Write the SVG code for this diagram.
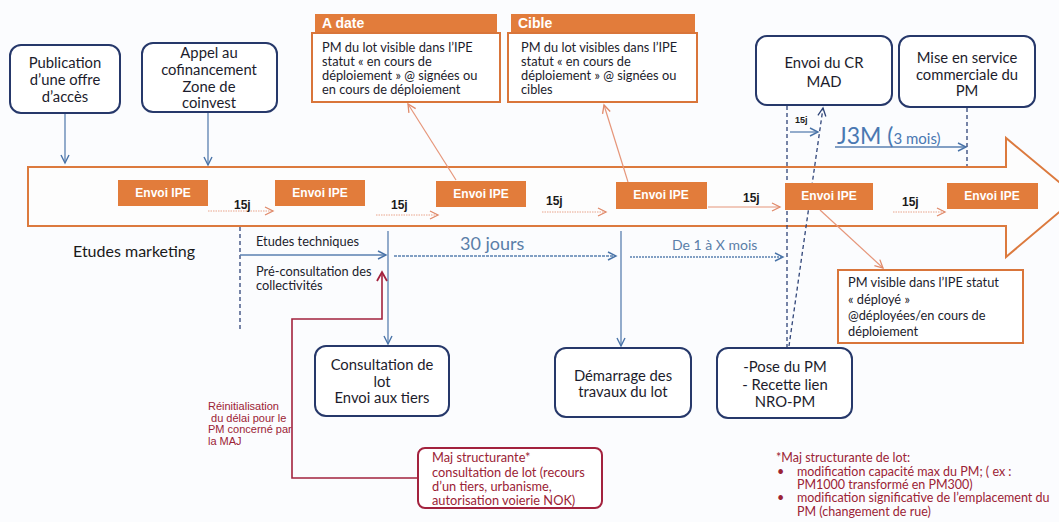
<svg xmlns="http://www.w3.org/2000/svg" width="1059" height="522" viewBox="0 0 1059 522">
<style>
.bg{fill:#fbfcfe}
.nb{fill:#ffffff;stroke:#26386a;stroke-width:2}
.nt{font-family:Lato,"Liberation Sans",sans-serif;font-size:14.8px;fill:#1c1c2c;text-anchor:middle}
.ob{fill:#e27c3b}
.ot{font-family:"Liberation Sans",Arial,sans-serif;font-size:12px;font-weight:bold;fill:#ffffff;text-anchor:middle}
.bx{fill:#ffffff;stroke:#d9753a;stroke-width:2}
.st{font-family:Lato,"Liberation Sans",sans-serif;font-size:12.8px;fill:#1c1c2c}
.j{font-family:"Liberation Sans",Arial,sans-serif;font-size:12px;font-weight:bold;fill:#1a1a1a}
.sal{stroke:#e6967a;stroke-width:1.2;fill:none}
.dot{stroke:#e9a58c;stroke-width:1;fill:none;stroke-dasharray:1.5 1}
.blu{stroke:#5a80b0;stroke-width:1.3;fill:none}
.nav{stroke:#2f4478;stroke-width:1.3;fill:none;stroke-dasharray:4 3}
.red{stroke:#a3223e;stroke-width:1.6;fill:none}
.rt{font-family:Lato,"Liberation Sans",sans-serif;fill:#9b2335}
</style>
<defs>
<marker id="aS" markerUnits="userSpaceOnUse" markerWidth="12" markerHeight="12" refX="9" refY="5" orient="auto"><path d="M1,1 L9,5 L1,9" fill="none" stroke="#e08a6a" stroke-width="1.3"/></marker>
<marker id="aB" markerUnits="userSpaceOnUse" markerWidth="12" markerHeight="12" refX="9" refY="5" orient="auto"><path d="M1,1 L9,5 L1,9" fill="none" stroke="#4a74a8" stroke-width="1.4"/></marker>
<marker id="aN" markerUnits="userSpaceOnUse" markerWidth="12" markerHeight="12" refX="9" refY="5" orient="auto"><path d="M1,1 L9,5 L1,9" fill="none" stroke="#2f4478" stroke-width="1.3"/></marker>
<marker id="aR" markerUnits="userSpaceOnUse" markerWidth="14" markerHeight="14" refX="10" refY="6" orient="auto"><path d="M1,1 L10,6 L1,11" fill="none" stroke="#a3223e" stroke-width="1.8"/></marker>
</defs>
<rect class="bg" x="0" y="0" width="1059" height="522"/>

<g id="timeline">
<polygon points="28,167 1006,167 1006,138 1077,197 1006,257 1006,226 28,226" fill="#fdfdfd" stroke="#dc7a3e" stroke-width="2"/>
</g>

<g id="connectors">
<line x1="65" y1="113" x2="65" y2="163" class="blu" marker-end="url(#aB)"/>
<line x1="208" y1="112" x2="208" y2="165" class="blu" marker-end="url(#aB)"/>
<line x1="208" y1="211" x2="273" y2="211" class="dot" marker-end="url(#aS)"/>
<line x1="376" y1="215" x2="438" y2="215" class="dot" marker-end="url(#aS)"/>
<line x1="542" y1="212" x2="606" y2="212" class="dot" marker-end="url(#aS)"/>
<line x1="708" y1="207" x2="780" y2="207" class="sal" marker-end="url(#aS)"/>
<line x1="893" y1="212" x2="945" y2="212" class="dot" marker-end="url(#aS)"/>
<line x1="456" y1="180" x2="408" y2="104" class="sal" marker-end="url(#aS)"/>
<line x1="628" y1="182" x2="604" y2="105" class="sal" marker-end="url(#aS)"/>
<line x1="820" y1="210" x2="883" y2="268" class="sal" marker-end="url(#aS)"/>
<line x1="240" y1="227" x2="240" y2="330" class="nav"/>
<line x1="240" y1="255" x2="386" y2="255" class="blu" marker-end="url(#aB)"/>
<line x1="388" y1="231" x2="388" y2="344" class="blu" marker-end="url(#aB)"/>
<line x1="394" y1="256" x2="616" y2="256" class="blu" stroke-dasharray="3 1" marker-end="url(#aB)"/>
<line x1="621" y1="231" x2="621" y2="346" class="blu" marker-end="url(#aB)"/>
<line x1="630" y1="257" x2="783" y2="257" class="blu" stroke-dasharray="2 1" marker-end="url(#aB)"/>
<line x1="787" y1="106" x2="787" y2="347" class="nav"/>
<line x1="789" y1="346" x2="823" y2="108" class="nav" marker-end="url(#aN)"/>
<line x1="790" y1="132" x2="818" y2="132" class="blu" marker-end="url(#aB)"/>
<line x1="835" y1="147" x2="966" y2="147" class="blu" marker-end="url(#aB)"/>
<line x1="967" y1="108" x2="967" y2="166" class="nav"/>
<polyline points="418,478 292,478 292,319 382,319 382,272" class="red" marker-end="url(#aR)"/>
</g>

<g id="n-publication">
<rect class="nb" x="10" y="45" width="110" height="68" rx="11"/>
<text class="nt" x="65" y="68">Publication</text>
<text class="nt" x="65" y="85">d’une offre</text>
<text class="nt" x="65" y="102">d’accès</text>
</g>
<g id="n-appel">
<rect class="nb" x="142" y="43" width="135" height="69" rx="11"/>
<text class="nt" x="209" y="58">Appel au</text>
<text class="nt" x="209" y="75">cofinancement</text>
<text class="nt" x="209" y="92">Zone de</text>
<text class="nt" x="209" y="108">coinvest</text>
</g>

<g id="n-adate">
<rect class="bx" x="312" y="33" width="188" height="69"/>
<rect class="ob" x="315" y="14" width="182" height="18"/>
<text x="322" y="28" font-family="Liberation Sans,Arial,sans-serif" font-size="14" font-weight="bold" fill="#fff">A date</text>
<text class="st" x="322" y="52">PM du lot visible dans l’IPE</text>
<text class="st" x="322" y="66">statut « en cours de</text>
<text class="st" x="322" y="80">déploiement » @ signées ou</text>
<text class="st" x="322" y="94">en cours de déploiement</text>
</g>
<g id="n-cible">
<rect class="bx" x="508" y="33" width="189" height="69"/>
<rect class="ob" x="511" y="14" width="184" height="18"/>
<text x="518" y="28" font-family="Liberation Sans,Arial,sans-serif" font-size="14" font-weight="bold" fill="#fff">Cible</text>
<text class="st" x="521" y="52">PM du lot visibles dans l’IPE</text>
<text class="st" x="521" y="66">statut « en cours de</text>
<text class="st" x="521" y="80">déploiement  » @ signées ou</text>
<text class="st" x="521" y="94">cibles</text>
</g>

<g id="n-envoicr">
<rect class="nb" x="756" y="36" width="136" height="69" rx="11"/>
<text class="nt" x="824" y="68">Envoi du CR</text>
<text class="nt" x="824" y="87">MAD</text>
</g>
<g id="n-miseservice">
<rect class="nb" x="899" y="36" width="136" height="71" rx="11"/>
<text class="nt" x="967" y="63">Mise en service</text>
<text class="nt" x="967" y="80">commerciale du</text>
<text class="nt" x="967" y="96">PM</text>
</g>

<g id="n-ipe1"><rect class="ob" x="118" y="180" width="90" height="26"/><text class="ot" x="163" y="197">Envoi IPE</text></g>
<g id="n-ipe2"><rect class="ob" x="275" y="180" width="90" height="26"/><text class="ot" x="320" y="197">Envoi IPE</text></g>
<g id="n-ipe3"><rect class="ob" x="436" y="181" width="90" height="26"/><text class="ot" x="481" y="198">Envoi IPE</text></g>
<g id="n-ipe4"><rect class="ob" x="616" y="182" width="91" height="27"/><text class="ot" x="661" y="199">Envoi IPE</text></g>
<g id="n-ipe5"><rect class="ob" x="785" y="183" width="88" height="27"/><text class="ot" x="829" y="200">Envoi IPE</text></g>
<g id="n-ipe6"><rect class="ob" x="947" y="183" width="91" height="26"/><text class="ot" x="992" y="200">Envoi IPE</text></g>

<g id="labels">
<text class="j" x="234" y="209">15j</text>
<text class="j" x="391" y="209">15j</text>
<text class="j" x="546" y="205">15j</text>
<text class="j" x="743" y="202">15j</text>
<text class="j" x="902" y="206">15j</text>
<text x="795" y="123" font-family="Liberation Sans,Arial,sans-serif" font-size="9" font-weight="bold" fill="#1a1a1a">15j</text>
<text x="837" y="144" font-family="Lato,'Liberation Sans',sans-serif" font-size="23" fill="#4a78b2">J3M (<tspan font-size="15">3 mois)</tspan></text>
<text x="73" y="257" font-family="Lato,'Liberation Sans',sans-serif" font-size="16" fill="#1a1a1a">Etudes marketing</text>
<text class="st" x="256" y="246">Etudes techniques</text>
<text class="st" x="256" y="276">Pré-consultation des</text>
<text class="st" x="256" y="290">collectivités</text>
<text x="460" y="250" font-family="Lato,'Liberation Sans',sans-serif" font-size="18" fill="#5a7ea8">30 jours</text>
<text x="672" y="250" font-family="Lato,'Liberation Sans',sans-serif" font-size="14" fill="#5a7ea8">De 1 à X mois</text>
<text font-family="'Liberation Sans',Arial,sans-serif" fill="#9b2335" font-size="11"><tspan x="208" y="410">Réinitialisation</tspan><tspan x="208" y="421.5"> du délai pour le</tspan><tspan x="208" y="433">PM concerné par</tspan><tspan x="208" y="445">la MAJ</tspan></text>
<text class="rt" font-size="12.5"><tspan x="776" y="462">*Maj structurante de lot:</tspan><tspan x="777" y="476">•</tspan><tspan x="797" y="476">modification capacité max du PM; ( ex :</tspan><tspan x="797" y="489">PM1000 transformé en PM300)</tspan><tspan x="777" y="502">•</tspan><tspan x="797" y="502">modification significative de l’emplacement du</tspan><tspan x="797" y="516">PM (changement de rue)</tspan></text>
</g>

<g id="n-consultation">
<rect class="nb" x="315" y="346" width="134" height="70" rx="11"/>
<text class="nt" x="382" y="370">Consultation de</text>
<text class="nt" x="382" y="387">lot</text>
<text class="nt" x="382" y="403">Envoi aux tiers</text>
</g>
<g id="n-demarrage">
<rect class="nb" x="555" y="348" width="136" height="69" rx="11"/>
<text class="nt" x="623" y="381">Démarrage des</text>
<text class="nt" x="623" y="397">travaux du lot</text>
</g>
<g id="n-pose">
<rect class="nb" x="717" y="348" width="135" height="70" rx="11"/>
<text class="nt" x="785" y="372">-Pose  du PM</text>
<text class="nt" x="785" y="390">- Recette lien</text>
<text class="nt" x="785" y="407">NRO-PM</text>
</g>
<g id="n-deploye">
<rect class="bx" x="838" y="270" width="185" height="73"/>
<text class="st" font-size="12.5" x="848" y="287">PM visible dans l’IPE statut</text>
<text class="st" font-size="12.5" x="848" y="304">« déployé »</text>
<text class="st" font-size="12.5" x="848" y="320">@déployées/en cours de</text>
<text class="st" font-size="12.5" x="848" y="336">déploiement</text>
</g>
<g id="n-maj">
<rect x="418" y="448" width="184" height="60" rx="7" fill="#ffffff" stroke="#a3223e" stroke-width="2"/>
<text class="rt" font-size="12.8"><tspan x="432" y="462">Maj  structurante*</tspan><tspan x="432" y="477">consultation de lot (recours</tspan><tspan x="432" y="491">d’un tiers, urbanisme,</tspan><tspan x="432" y="505">autorisation voierie NOK)</tspan></text>
</g>
</svg>
